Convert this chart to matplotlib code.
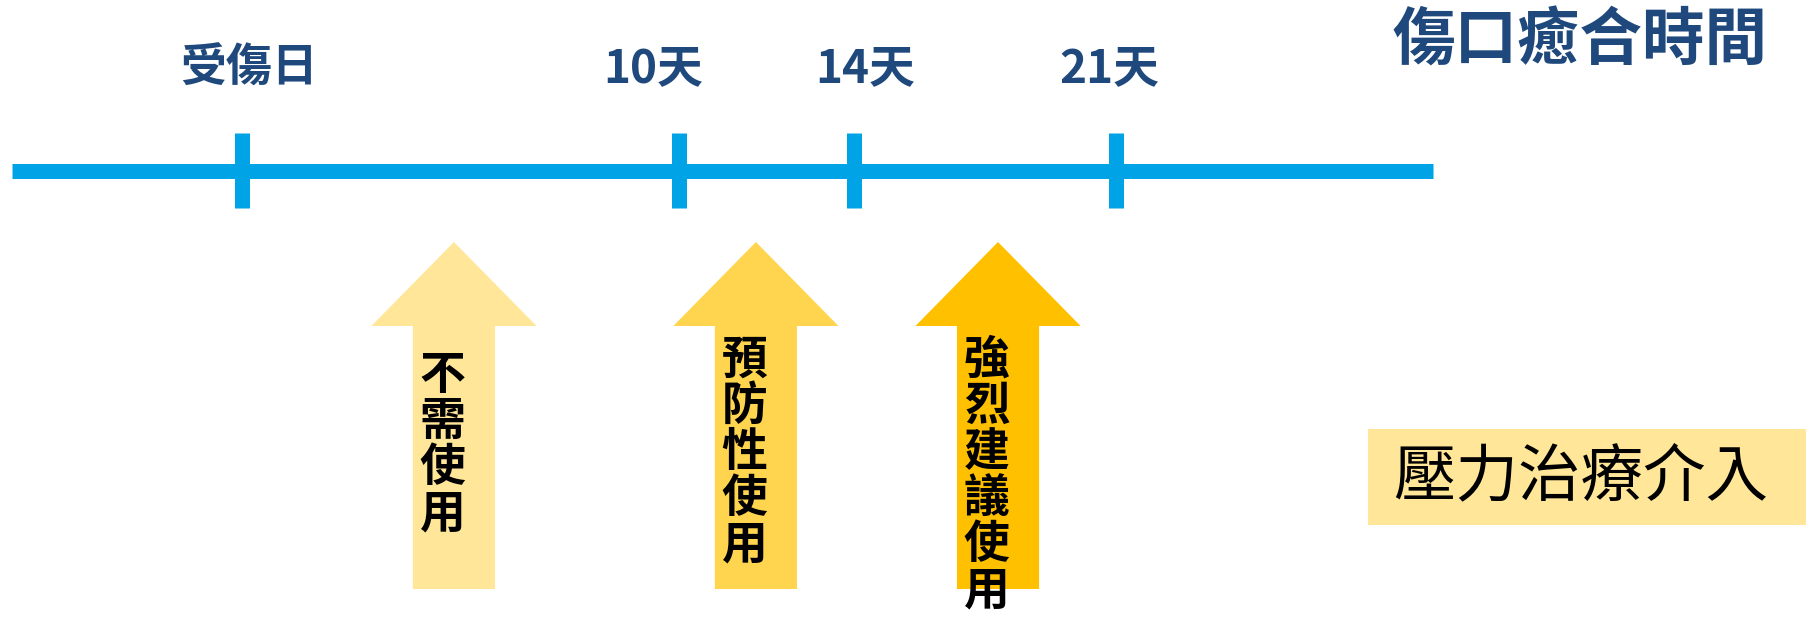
import matplotlib
matplotlib.use('Agg')
import matplotlib.pyplot as plt
from matplotlib.patches import FancyArrow, Rectangle

plt.rcParams['font.family'] = ['Noto Sans CJK TC', 'DejaVu Sans']

# timeline marks (positions in days)
tick_days = [0, 10, 14, 20]
tick_labels = ['受傷日', '10天', '14天', '21天']
label_shift = [0.15, -0.6, 0.25, -0.15]

# recommendation arrows
arrow_days = [4.85, 11.76, 17.3]
arrow_labels = ['不需使用', '預防性使用', '強烈建議使用']
arrow_colors = ['#FFE699', '#FFD54F', '#FFC000']

title = '傷口癒合時間'
box_text = '壓力治療介入'

blue_text = '#1F497D'
line_blue = '#00A4E6'

px_per_day = 43.7
x_start = -242 / px_per_day

fig = plt.figure(figsize=(18.18, 6.24), dpi=100)
ax = fig.add_axes([0, 0, 1, 1])
ax.set_xlim(x_start, x_start + 1818 / px_per_day)
ax.set_ylim(624, 0)
ax.axis('off')

# main time line
ax.plot([-5.27, 27.25], [171, 171], color=line_blue, lw=10.8, solid_capstyle='butt')
for d in tick_days:
    ax.plot([d, d], [133, 208], color=line_blue, lw=10.8, solid_capstyle='butt')

for d, lab, s in zip(tick_days, tick_labels, label_shift):
    ax.text(d + s, 69, lab, ha='center', va='center', fontsize=33,
            fontweight='bold', color=blue_text)

ax.text(30.62, 41, title, ha='center', va='center', fontsize=45,
        fontweight='bold', color=blue_text)

# arrows with vertical captions
starts = [376, 361, 361]
for x, lab, c, y0 in zip(arrow_days, arrow_labels, arrow_colors, starts):
    arr = FancyArrow(x, 589, 0, -347, width=1.88, head_width=3.78,
                     head_length=84, length_includes_head=True,
                     color=c, lw=0)
    ax.add_patch(arr)
    for i, ch in enumerate(lab):
        ax.text(x - 0.26, y0 + i * 46, ch, ha='center', va='center',
                fontsize=33, fontweight='bold', color='black')

# legend-like box
ax.add_patch(Rectangle((25.77, 429), 10.02, 96, color='#FFE699', lw=0))
ax.text(30.64, 477, box_text, ha='center', va='center', fontsize=45,
        color='black')

fig.savefig('out.png', dpi=100)
